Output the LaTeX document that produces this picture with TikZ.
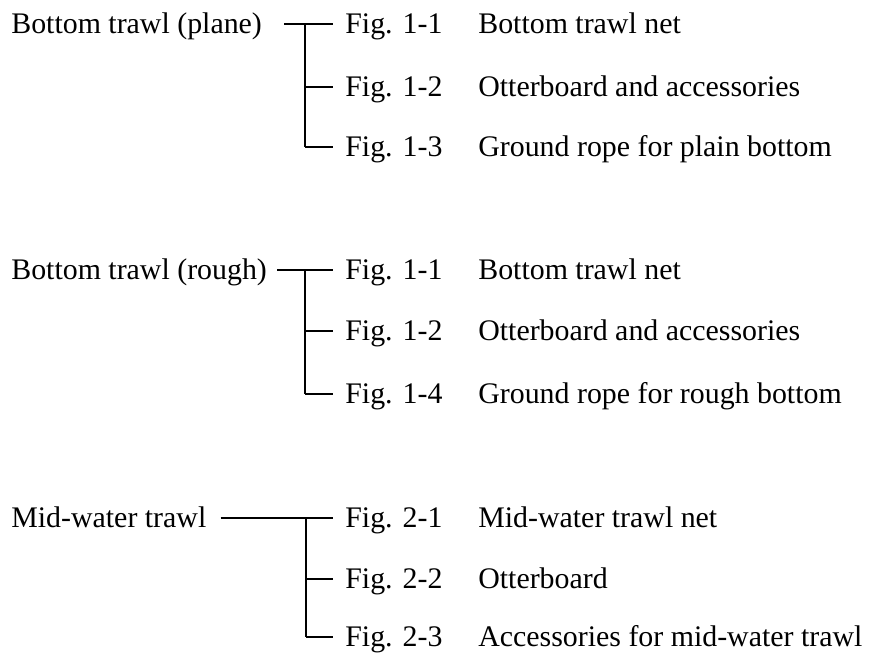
\documentclass[tikz,border=0pt]{standalone}
\usepackage{fontspec}
\setmainfont{Liberation Serif}
\begin{document}
\begin{tikzpicture}[x=1cm,y=1cm,
  every node/.style={font=\fontsize{17}{20}\selectfont, text height=0.4cm, text depth=0pt, inner ysep=0pt, anchor=west},
  trawl/.style={inner xsep=0pt},
  fig/.style={inner xsep=0.24cm},
  desc/.style={inner xsep=0pt},
  twig/.style={line width=0.6pt},
  trunk/.style={line width=1.1pt}]
\useasboundingbox (0,0) rectangle (17.48,-13.26);

\node[trawl] (plane) at (0.22,-0.48) {Bottom trawl (plane)};
\node[trawl] (rough) at (0.22,-5.40) {Bottom trawl (rough)};
\node[trawl] (mid) at (0.22,-10.36) {Mid-water trawl};

\node[fig] (p1) at (6.66,-0.48) {Fig. 1-1};
\node[fig] (p2) at (6.66,-1.74) {Fig. 1-2};
\node[fig] (p3) at (6.66,-2.94) {Fig. 1-3};
\node[fig] (r1) at (6.66,-5.40) {Fig. 1-1};
\node[fig] (r2) at (6.66,-6.62) {Fig. 1-2};
\node[fig] (r3) at (6.66,-7.88) {Fig. 1-4};
\node[fig] (m1) at (6.66,-10.36) {Fig. 2-1};
\node[fig] (m2) at (6.66,-11.58) {Fig. 2-2};
\node[fig] (m3) at (6.66,-12.74) {Fig. 2-3};

\node[desc] (dp1) at (9.56,-0.48) {Bottom trawl net};
\node[desc] (dp2) at (9.56,-1.74) {Otterboard and accessories};
\node[desc] (dp3) at (9.56,-2.94) {Ground rope for plain bottom};
\node[desc] (dr1) at (9.56,-5.40) {Bottom trawl net};
\node[desc] (dr2) at (9.56,-6.62) {Otterboard and accessories};
\node[desc] (dr3) at (9.56,-7.88) {Ground rope for rough bottom};
\node[desc] (dm1) at (9.56,-10.36) {Mid-water trawl net};
\node[desc] (dm2) at (9.56,-11.58) {Otterboard};
\node[desc] (dm3) at (9.56,-12.74) {Accessories for mid-water trawl};

\coordinate (tp) at (6.10,-0.48);
\coordinate (tr) at (6.10,-5.40);
\coordinate (tm) at (6.12,-10.36);

\draw[twig] ([xshift=0.44cm]plane.east) -- (p1.west);
\draw[trunk] (tp) -- (tp |- p3.west);
\draw[twig] (tp |- p2.west) -- (p2.west);
\draw[twig] (tp |- p3.west) -- (p3.west);

\draw[twig] ([xshift=0.2cm]rough.east) -- (r1.west);
\draw[trunk] (tr) -- (tr |- r3.west);
\draw[twig] (tr |- r2.west) -- (r2.west);
\draw[twig] (tr |- r3.west) -- (r3.west);

\draw[twig] ([xshift=0.28cm]mid.east) -- (m1.west);
\draw[trunk] (tm) -- (tm |- m3.west);
\draw[twig] (tm |- m2.west) -- (m2.west);
\draw[twig] (tm |- m3.west) -- (m3.west);
\end{tikzpicture}
\end{document}
